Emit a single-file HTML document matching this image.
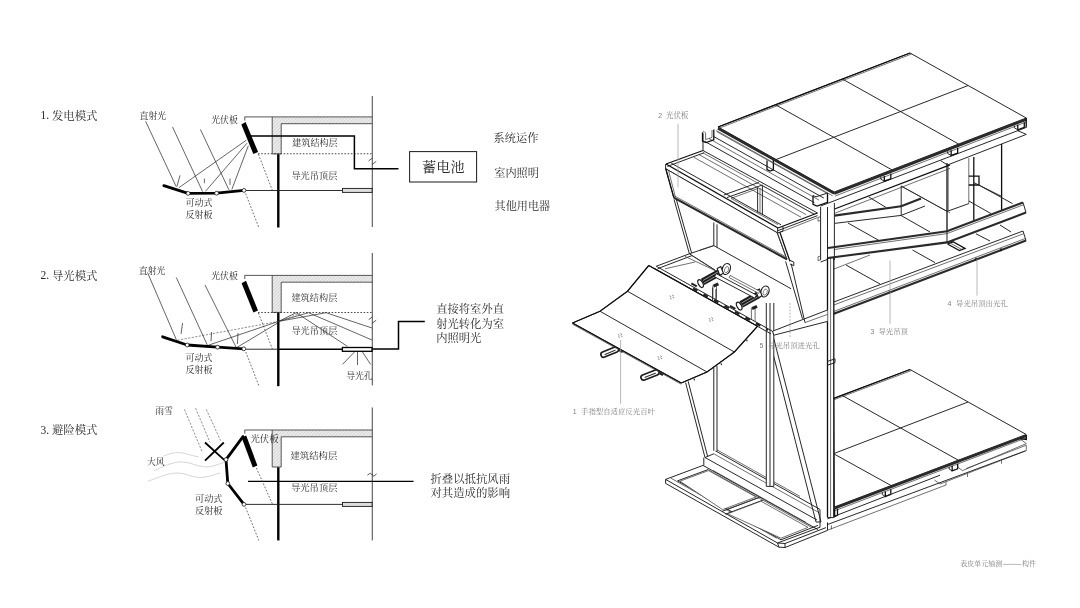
<!DOCTYPE html>
<html lang="zh"><head><meta charset="utf-8"><title>表皮单元 模式示意</title>
<style>
html,body{margin:0;padding:0;background:#fff}
body{width:1080px;height:608px;overflow:hidden;font-family:"Liberation Sans",sans-serif}
svg{display:block}
path,polygon,circle,rect,line{fill:none;stroke:#1a1a1a;stroke-width:1;stroke-linecap:butt;stroke-linejoin:miter}
.gl{fill:inherit;stroke:none}
text{stroke:none}
.k0{stroke:none}
.k1{stroke-width:1}
.k7{stroke-width:.7}
.k8{stroke-width:.8}
.k9{stroke-width:.9}
.g1{stroke:#444;stroke-width:.9}
.t{stroke:#222;stroke-width:.7}
.h13{stroke:#000;stroke-width:1.3}
.h15{stroke:#000;stroke-width:1.5}
.h17{stroke:#000;stroke-width:1.8}
.h25{stroke:#000;stroke-width:2.4}
.h28{stroke:#000;stroke-width:2.8;stroke-linejoin:round;stroke-linecap:round}
.d1{stroke:#222;stroke-width:.8;stroke-dasharray:1.6 1.6}
.d2{stroke:#333;stroke-width:.7;stroke-dasharray:1.8 1.6}
.d3{stroke:#444;stroke-width:.6;stroke-dasharray:2.2 1.4}
.w{stroke:#c4c4c4;stroke-width:.7}

.a{stroke:#1c1c1c;stroke-width:.95}
.a5{stroke:#333;stroke-width:.7}
.ab{stroke:#111;stroke-width:1.3}
.ad{stroke:#2a2a2a;stroke-width:2.1}
.ad26{stroke:#2a2a2a;stroke-width:2.7}
.ad3{stroke:#222;stroke-width:2.8}
.lg{stroke:#a0a0a0;stroke-width:.75}
.lgd{stroke:#a0a0a0;stroke-width:.75;stroke-dasharray:2 1.2}
.cs{font-family:"Liberation Serif","Noto Serif CJK SC",serif}
.cn{font-family:"Liberation Sans","Noto Serif CJK SC",serif}
</style></head>
<body>
<svg width="1080" height="608" viewBox="0 0 1080 608">
<defs><filter id="soft" x="0" y="0" width="100%" height="100%" filterUnits="userSpaceOnUse"><feGaussianBlur stdDeviation="0.38"/></filter><pattern id="hat" width="2.4" height="2.4" patternUnits="userSpaceOnUse" patternTransform="rotate(-45)"><rect width="2.4" height="2.4" style="fill:#ececec;stroke:none"/><line x1="0" y1="0" x2="2.4" y2="0" style="stroke:#a8a8a8;stroke-width:.6"/></pattern></defs>
<rect x="0" y="0" width="1080" height="608" style="fill:#fff;stroke:none"/>
<g filter="url(#soft)">
<path style="fill:url(#hat);stroke:none" d="M272.2 116.9H372.2V123.5H281.2V153.9H272.2Z"/>
<path class="g1" d="M244.6 116.9L372.2 116.9"/>
<path class="g1" d="M244.8 116.9L244.8 120.5"/>
<path class="g1" d="M272.2 116.9L272.2 153.9L281.2 153.9L281.2 123.7L372.2 123.7"/>
<path class="k8" d="M372.3 96L372.3 227"/>
<path class="h25" d="M278.3 154.2L278.3 227.5"/>
<polygon class="k0" style="fill:#000" points="241.3,124.4 245.6,121.9 258.1,151.9 253.3,153.9"/>
<path class="d1" d="M258 153.75L372 153.75"/>
<path class="h15" d="M250.6 136L354.4 136L354.4 168.7L398.5 168.7"/>
<path class="k9" d="M246 190.5L342.5 190.5"/>
<rect class="k9" style="fill:#ddd" x="342.5" y="188.4" width="29.6" height="4"/>
<path class="k7" d="M368.6 160.8L372.6 158"/>
<path class="k7" d="M372.2 164.4L376.2 161.4"/>
<path class="d2" d="M258.4 154.2L272.2 190"/>
<path class="d2" d="M245.6 193.5L258.8 227.5"/>
<path class="t" d="M145.6 121.3L176.2 186.6"/>
<path class="t" d="M172.5 126.9L202.6 191.6"/>
<path class="t" d="M200.4 129.4L228.9 189.8"/>
<path class="t" d="M179 187.6L246.3 140.2"/>
<path class="t" d="M205.4 191.4L247 143.2"/>
<path class="t" d="M231.8 189.5L248.3 145.8"/>
<path class="t" d="M176.9 186.6L180 175.4"/>
<path class="t" d="M204.4 183.2L204.4 178.6"/>
<path class="t" d="M230 185L230 178.6"/>
<path class="h28" d="M163.8 185.6L188.1 193.4L216.6 193.2L244 190.4"/>
<circle class="k8" style="fill:#fff" cx="188.1" cy="193.4" r="1.9"/>
<circle class="k8" style="fill:#fff" cx="216.6" cy="193.2" r="1.9"/>
<circle class="k8" style="fill:#fff" cx="244" cy="190.4" r="1.9"/>
<rect class="k1" style="fill:#fff" x="409.6" y="151.6" width="67" height="30.4"/>
<path style="fill:url(#hat);stroke:none" d="M272.2 275.4H372.2V282H281.2V312.4H272.2Z"/>
<path class="g1" d="M244.6 275.4L372.2 275.4"/>
<path class="g1" d="M244.8 275.4L244.8 279"/>
<path class="g1" d="M272.2 275.4L272.2 312.4L281.2 312.4L281.2 282.2L372.2 282.2"/>
<path class="k8" d="M372.3 253L372.3 385.4"/>
<path class="h25" d="M278.3 312.7L278.3 386.2"/>
<polygon class="k0" style="fill:#000" points="241.6,283.2 246,280.8 258,310.4 253.4,312.4"/>
<path class="d1" d="M258 312.5L372 312.5"/>
<path class="k9" d="M246 349.2L278 349.2"/>
<path class="h15" d="M278 349.3L342.5 349.3"/>
<rect class="h13" style="fill:#fff" x="342.4" y="347.5" width="29.6" height="3.8"/>
<path class="h15" d="M372.3 349L398.5 349L398.5 321.6L424.8 321.6"/>
<path class="k7" d="M368.6 319.6L372.6 316.8"/>
<path class="k7" d="M372.2 323.2L376.2 320.2"/>
<path class="d2" d="M258.4 313L272.4 349"/>
<path class="d2" d="M245.8 352L258.8 385.5"/>
<path class="t" d="M147.5 272.5L176.4 339.8"/>
<path class="t" d="M176.3 277.5L207.4 345.2"/>
<path class="t" d="M205 285L236.2 347.4"/>
<path class="t" d="M181 334L182.6 323"/>
<path class="t" d="M211 341.2L211.6 332"/>
<path class="t" d="M237.4 344L238 333"/>
<path class="d3" d="M177.5 340.2L278.5 321.4"/>
<path class="t" d="M208.5 345.2L278.5 321.4"/>
<path class="t" d="M237 347.4L278.5 322.5"/>
<path class="t" d="M278.5 321.4L296.2 312.7"/>
<path class="t" d="M278.5 321.4L308.5 312.7"/>
<path class="t" d="M278.5 321.4L326 312.7"/>
<path class="d3" d="M278.5 321.4L300 313.4"/>
<path class="t" d="M296.2 312.7L347.5 346.4"/>
<path class="t" d="M308.5 312.7L372 340"/>
<path class="t" d="M326 312.7L372 328"/>
<path class="t" d="M354.4 352L342.5 364.4"/>
<path class="t" d="M357.5 352L357.5 365"/>
<path class="t" d="M362.5 352L370.6 364.4"/>
<path class="h28" d="M162.6 336.8L187.2 345L217.6 347.2L243.8 348.8"/>
<circle class="k8" style="fill:#fff" cx="187.2" cy="345" r="1.9"/>
<circle class="k8" style="fill:#fff" cx="217.6" cy="347.2" r="1.9"/>
<circle class="k8" style="fill:#fff" cx="243.8" cy="348.8" r="1.9"/>
<path style="fill:url(#hat);stroke:none" d="M272.2 430H372.2V436.6H281.2V467H272.2Z"/>
<path class="g1" d="M244.6 430L372.2 430"/>
<path class="g1" d="M244.8 430L244.8 433.6"/>
<path class="g1" d="M272.2 430L272.2 467L281.2 467L281.2 436.8L372.2 436.8"/>
<path class="k8" d="M372.3 407.5L372.3 540.4"/>
<path class="h25" d="M278.3 467.3L278.3 540.4"/>
<polygon class="k0" style="fill:#000" points="241.6,437.4 246.2,435.6 257.4,465.6 252.8,467.4"/>
<path class="h13" d="M248 481.4L413.6 481.4"/>
<path class="k9" d="M246 504.4L342.5 504.4"/>
<rect class="k9" style="fill:#ddd" x="342.5" y="502.4" width="29.6" height="4"/>
<path class="k7" d="M367.4 475.2L370.2 473.2L373.8 476.2L376.6 474"/>
<path class="d2" d="M256.4 468L272.4 504"/>
<path class="d2" d="M245.6 507.5L258.8 540.4"/>
<path class="d3" d="M184.4 409.4L201.9 451.2"/>
<path class="d3" d="M195.6 408.2L210 442.4"/>
<path class="d3" d="M206.3 409.4L220.6 440.6"/>
<path class="w" d="M163.5 456.2C169 453.6 174 452.4 179 452.6C186 452.9 192 456 198.8 456.9"/>
<path class="w" d="M154.4 470.6C163 466.5 172 462 181.3 461.9C190 461.8 197 466.6 205 466.9C212 467.2 218 464.4 224.5 462.2"/>
<path class="w" d="M148 481.3C157 478 167 473.2 177.5 473C186 472.9 191.5 477.2 198.8 477.5C206.5 477.8 213 475 220 473"/>
<path class="h17" d="M205 442.5L225 460.6"/>
<path class="h17" d="M205 460.6L223.8 442.5"/>
<path class="h28" d="M243 436.6L226 459.6L227.8 483.5L244 504.4"/>
<circle class="k8" style="fill:#fff" cx="226" cy="459.6" r="1.9"/>
<circle class="k8" style="fill:#fff" cx="227.8" cy="483.5" r="1.9"/>
<circle class="k8" style="fill:#fff" cx="244" cy="504.4" r="1.9"/>
<g fill="#2a2a2a"><text x="40.4" y="119.46" font-family="Liberation Serif" font-size="11.5">1.</text><text class="cs" x="51.9" y="119.8" font-size="11.4">发电模式</text></g>
<g fill="#2a2a2a"><text x="40.4" y="279.46" font-family="Liberation Serif" font-size="11.5">2.</text><text class="cs" x="51.9" y="279.8" font-size="11.4">导光模式</text></g>
<g fill="#2a2a2a"><text x="40.4" y="433.86" font-family="Liberation Serif" font-size="11.5">3.</text><text class="cs" x="51.9" y="434.2" font-size="11.4">避险模式</text></g>
<g fill="#2a2a2a"><text class="cs" x="139.6" y="119.25" font-size="8.9">直射光</text></g>
<g fill="#2a2a2a"><text class="cs" x="211.2" y="123.25" font-size="8.9">光伏板</text></g>
<g fill="#2a2a2a"><text class="cs" x="292.2" y="146.23" font-size="9.1">建筑结构层</text></g>
<g fill="#2a2a2a"><text class="cs" x="291.4" y="178.51" font-size="9.2">导光吊顶层</text></g>
<g fill="#2a2a2a"><text class="cs" x="185.4" y="206.14" font-size="9">可动式</text></g>
<g fill="#2a2a2a"><text class="cs" x="185.4" y="217.94" font-size="9">反射板</text></g>
<g fill="#2a2a2a"><text class="cs" x="422" y="171.61" font-size="14.2">蓄电池</text></g>
<g fill="#2a2a2a"><text class="cs" x="493.6" y="142.23" font-size="11.2">系统运作</text></g>
<g fill="#2a2a2a"><text class="cs" x="494.2" y="176.83" font-size="11.2">室内照明</text></g>
<g fill="#2a2a2a"><text class="cs" x="494.6" y="210.15" font-size="11.1">其他用电器</text></g>
<g fill="#2a2a2a"><text class="cs" x="138.8" y="274.05" font-size="8.9">直射光</text></g>
<g fill="#2a2a2a"><text class="cs" x="211.2" y="278.85" font-size="8.9">光伏板</text></g>
<g fill="#2a2a2a"><text class="cs" x="291.4" y="301.31" font-size="9.2">建筑结构层</text></g>
<g fill="#2a2a2a"><text class="cs" x="291.4" y="333.91" font-size="9.2">导光吊顶层</text></g>
<g fill="#2a2a2a"><text class="cs" x="185.6" y="361.14" font-size="9">可动式</text></g>
<g fill="#2a2a2a"><text class="cs" x="185.6" y="372.54" font-size="9">反射板</text></g>
<g fill="#2a2a2a"><text class="cs" x="346.2" y="378.57" font-size="8.8">导光孔</text></g>
<g fill="#2a2a2a"><text class="cs" x="436.2" y="312.92" font-size="11.3">直接将室外直</text></g>
<g fill="#2a2a2a"><text class="cs" x="436.2" y="327.52" font-size="11.3">射光转化为室</text></g>
<g fill="#2a2a2a"><text class="cs" x="436.2" y="341.92" font-size="11.3">内照明光</text></g>
<g fill="#2a2a2a"><text class="cs" x="155.6" y="414" font-size="8.6">雨雪</text></g>
<g fill="#2a2a2a"><text class="cs" x="147" y="464.77" font-size="8.8">大风</text></g>
<g fill="#2a2a2a"><text class="cs" x="250.4" y="441.88" font-size="9.4">光伏板</text></g>
<g fill="#2a2a2a"><text class="cs" x="290.4" y="458.88" font-size="9.4">建筑结构层</text></g>
<g fill="#2a2a2a"><text class="cs" x="291" y="491.4" font-size="9.3">导光吊顶层</text></g>
<g fill="#2a2a2a"><text class="cs" x="195" y="502.31" font-size="9.2">可动式</text></g>
<g fill="#2a2a2a"><text class="cs" x="195" y="514.31" font-size="9.2">反射板</text></g>
<g fill="#2a2a2a"><text class="cs" x="430.4" y="483" font-size="11.4">折叠以抵抗风雨</text></g>
<g fill="#2a2a2a"><text class="cs" x="430.4" y="497" font-size="11.4">对其造成的影响</text></g>
<polygon class="a" style="fill:#fff" points="833.75,398.4 910,369.5 1026.25,434.5 834.4,507"/>
<path class="ab" d="M833.75 398.4L910 369.5"/>
<path class="a5" d="M833.75 399.8L911.5 370.5"/>
<path class="ad26" d="M1026.25 435.8L834.4 508.2"/>
<path class="a5" d="M1026.25 437.9L835 510.6"/>
<path class="a" d="M842.42 395.55L958.65 460.37"/>
<path class="a" d="M834.4 454.17L891.82 485.95"/>
<path class="a" d="M833.75 453.6L968.12 402"/>
<path class="ab" d="M885.32 491.45L885.32 496.45L890.82 494.35L890.82 489.35"/>
<path class="a" d="M885.32 496.45L882.32 494.55L882.32 492.55"/>
<path class="ab" d="M952.15 465.87L952.15 470.87L957.65 468.77L957.65 463.77"/>
<path class="a" d="M952.15 470.87L949.15 468.97L949.15 466.97"/>
<path class="ab" d="M834.6 508.5L834.6 516.5L837.5 515.4L837.5 508.4"/>
<path class="a" d="M821 521.4L940 475.2"/>
<path class="a" d="M822.5 526.4L1025.6 450.8"/>
<path class="a5" d="M827.5 530.2L946 485"/>
<path class="ab" d="M1026.3 435L1026.3 439.5L1020 438.6"/>
<path class="a5" d="M1020 438.8L1026.3 443.6L962.5 470.6L957 466.6"/>
<path class="a5" d="M1026.3 445.2L1026.3 450.6L940 484L934.5 480"/>
<path class="a5" d="M1026.3 445.2L966 468.6"/>
<path class="a5" d="M946 481.8L946 485.2"/>
<path class="a5" d="M967.5 473.6L967.5 477"/>
<path class="a5" d="M1001.5 460.4L1001.5 463.8"/>
<polygon class="k0" style="fill:#fff" points="665.6,479.4 703,465.4 703.8,457.6 713.8,453.6 715,450.6 820,509.4 827.5,517.5 827.5,530.4 785,547.5 779,547 665.6,483.4"/>
<path class="a" d="M665.6 479.4L703 465.4"/>
<path class="a" d="M665.6 479.4L777.5 543"/>
<path class="a" d="M665.6 479.4L665.6 483.4"/>
<path class="a" d="M665.6 483.4L779 547.2"/>
<path class="a" d="M779 547.2L785 547.5"/>
<path class="a" d="M777.5 543L779 547.2"/>
<path class="a" d="M777.5 543L785 543.5"/>
<path class="a" d="M785 543.5L785 547.5"/>
<path class="a" d="M785 547.5L827.5 530.4"/>
<path class="a" d="M785 543.5L826 527.6"/>
<path class="a" d="M777.5 543L820 527.2"/>
<path class="a" d="M677.6 480.8L708 469.6"/>
<path class="a" d="M677.6 480.8L781 539.8"/>
<path class="a" d="M781 539.8L818 525.4"/>
<path class="a5" d="M671 478.2L776.6 538.2"/>
<path class="a" d="M703 465.4L818 529.6"/>
<path class="a5" d="M708 469.6L812 527.6"/>
<path class="a5" d="M713 470.4L806 522.4"/>
<path class="a" d="M722 511.4L758.8 497.6"/>
<path class="a" d="M725.4 514.2L762.8 500.2"/>
<path class="a5" d="M727 509.4L760 497"/>
<polygon class="a5" style="fill:#fff" points="727.5,513.8 761,501.2 808,527.4 781,538.2"/>
<polygon class="a5" style="fill:#fff" points="680,481.2 708.5,470.6 756,497 722.6,509.6"/>
<path class="a" d="M703.8 457.6L703.8 465.4"/>
<path class="a" d="M705 457.5L713.8 453.8"/>
<path class="a" d="M715 450.6L820 509.4"/>
<path class="a5" d="M713.8 453.8L819 512.6"/>
<path class="a" d="M705 457.5L817 520"/>
<path class="a5" d="M716.5 449.6L800 496.4"/>
<path class="a" d="M685.6 382.6L705 457.6"/>
<path class="a" d="M688.2 381.4L707.6 456.4"/>
<polygon class="k0" style="fill:#fff" points="713.8,367 717,367 717,450.8 713.8,450.8"/>
<path class="a" d="M713.8 367.5L713.8 450.8"/>
<path class="a" d="M717 366L717 451.4"/>
<path class="a" d="M768 334L816 522"/>
<path class="a" d="M772.6 334L821 522"/>
<path class="a" d="M816 522L821 522"/>
<polygon class="k0" style="fill:#fff" points="766.3,303 773.8,303 773.8,486 766.3,486"/>
<path class="a" d="M766.3 303L766.3 486.4"/>
<path class="a" d="M770 303L770 486.4"/>
<path class="a" d="M773.8 303L773.8 486.4"/>
<path class="a" d="M766.3 486.4L773.8 486.4"/>
<path class="ad" d="M834.4 215.6L901.2 206.2"/>
<path class="ad" d="M901.2 206.2L921 198.4"/>
<path class="a" d="M834.4 223.4L901.2 215.4"/>
<path class="a" d="M901.2 215.4L925 206"/>
<path class="a" d="M848 223L878.8 240.4"/>
<path class="a" d="M901.2 215.6L930 232"/>
<path class="a" d="M868.8 197L886 207.4"/>
<path class="a" d="M901.2 186L901.2 215"/>
<path class="a" d="M901.2 186L947 211.4"/>
<path class="a" d="M947 211.4L968.8 203.6"/>
<path class="ab" d="M947 163L947 242.5"/>
<path class="a5" d="M968.8 158L968.8 203.6"/>
<path class="ab" d="M973.8 157L973.8 221"/>
<path class="ab" d="M1001.6 144L1001.6 210"/>
<path class="a5" d="M948.2 165L948.2 211"/>
<path class="ab" d="M968.8 176.2L979 176.2L979 185L968.8 185"/>
<path class="a" d="M973.8 182.6L1001.6 196.4"/>
<path class="a" d="M978.8 185L1012.5 203.6"/>
<path class="a" d="M968.8 201L991 213.6"/>
<path class="a5" d="M901.2 186.2L950 212.8"/>
<polygon class="k0" style="fill:#fff" points="828,248 947,231.2 1023,202.4 1026,212.6 947,242.4 828,258"/>
<path class="ad" d="M828 248L947 231.2L1023 202.4"/>
<path class="ad" d="M828 258L947 242.4L1026 212.6"/>
<path class="a" d="M1023 202.4L1026 212.6"/>
<path class="a" d="M947 231.2L947 242.4"/>
<path class="a5" d="M828 250.4L947 233.6L1024 204.6"/>
<path class="a" d="M846 265L880 284"/>
<path class="a" d="M912.5 250L935 262.6"/>
<path class="a" d="M976 233.8L990 241"/>
<path class="a" d="M1000 225L1011 232"/>
<path class="a5" d="M834 269L870 255"/>
<path class="ab" d="M947.5 244L953 241.8L965 248.4L959.4 250.6L947.5 244"/>
<path class="a5" d="M950.4 243.2L962 249.6"/>
<polygon class="k0" style="fill:#fff" points="833.8,302 1023,231 1026,240.6 833.8,313.8"/>
<path class="a" d="M833.8 302L1023 231"/>
<path class="a5" d="M833.8 305L1023.4 233.8"/>
<path class="ad" d="M833.8 313.8L1026 240.6"/>
<path class="a" d="M1023 231L1026 240.6"/>
<path class="a5" d="M833.8 311.4L1025 238.6"/>
<path class="ab" d="M889.5 290.61L889.5 293.61"/>
<path class="ab" d="M976 257.68L976 260.68"/>
<path class="ab" d="M1001 248.17L1001 251.17"/>
<path class="a" d="M820.6 206L1026.3 127.4"/>
<path class="ab" d="M828 211.5L950 164.8"/>
<path class="a5" d="M834.4 213.4L950 168.4"/>
<path class="a" d="M1017.5 130.6L1026.3 134.4L947.5 165L940.6 160.6"/>
<polygon class="k0" style="fill:#fff" points="820.6,209 834.4,205 834.4,260 820.6,262"/>
<path class="a" d="M820.6 207L820.6 260"/>
<path class="a" d="M827.5 207L827.5 260"/>
<path class="a" d="M834.4 203L834.4 260"/>
<path class="a" d="M820.6 262L827.5 259.4"/>
<path class="a5" d="M820.6 216.6L818 217.4L818 221.2L820.6 220.4"/>
<path class="a5" d="M820.6 256L818 256.8L818 260.6L820.6 259.8"/>
<polygon class="k0" style="fill:#fff" points="827.5,258 833.8,258 833.8,517.6 827.5,517.6"/>
<path class="ab" d="M827.5 258L827.5 517.6"/>
<path class="a5" d="M830.6 258L830.6 517.6"/>
<path class="ab" d="M833.8 258L833.8 517.6"/>
<path class="a" d="M827.5 361.4L835 358.8L835 362.6L827.5 365.2"/>
<path class="a" d="M827.5 517.6L833.8 517.6"/>
<path class="ad" d="M828 248L835 247"/>
<path class="ad" d="M828 258L835 257.1"/>
<polygon class="k0" style="fill:#fff" points="773,331 827.5,310 827.5,321.4 773.8,335.2"/>
<path class="a" d="M773 331L827.5 310"/>
<path class="a" d="M773.8 335.2L827.5 321.4"/>
<path class="a" d="M772.4 331L773.8 335.2"/>
<path class="a5" d="M805 322.6L827.5 314.4"/>
<path class="a" d="M820 509.6L820 527.4"/>
<path class="a" d="M827.5 522.4L827.5 530.4"/>
<path class="a5" d="M831.4 525.4L831.4 529.4"/>
<path class="a" d="M703 150.5L817.5 213"/>
<path class="a5" d="M703 152.9L814.5 214.4"/>
<path class="a5" d="M699 154.6L806 214.6"/>
<path class="a5" d="M694 157.4L801 217.2"/>
<path class="a" d="M723.8 195L758.8 182.4"/>
<path class="a" d="M727 197.6L762.4 185"/>
<path class="a5" d="M731 198.4L757.6 188.6"/>
<path class="a" d="M757.6 187.6L757.6 212.6"/>
<path class="a" d="M762.4 185.6L762.4 215"/>
<path class="a5" d="M760 213.8L760 188"/>
<path class="a5" d="M731 198.4L778 224.6"/>
<path class="a5" d="M762.4 185.6L815 214.6"/>
<polygon class="k0" style="fill:#fff" points="674,198 787,259.6 802.5,318.8 689.4,253.8"/>
<path class="a" d="M713.8 222.5L713.8 245.6"/>
<path class="a" d="M717 224.4L717 247.4"/>
<path class="a" d="M689.4 253.8L713.8 245.6"/>
<path class="a" d="M713.8 245.6L791.2 288.8"/>
<path class="a5" d="M700 250.2L713.8 245.6"/>
<path class="ab" d="M666 164L703 150.5"/>
<path class="a" d="M667.4 166.4L704.2 152.7"/>
<path class="a" d="M703 150.5L703 133.4"/>
<path class="ab" d="M666 164L778 228"/>
<path class="a" d="M671.2 163.1L781 224.8"/>
<path class="a" d="M665.8 168.8L777 232.6"/>
<path class="ab" d="M778 228L817.5 213"/>
<path class="a" d="M778 230.6L817.5 215.6"/>
<path class="a5" d="M779 232.8L817.5 217.6"/>
<path class="a" d="M777.6 228L777.6 233L783 231L783 226.4"/>
<polygon class="a" style="fill:#fff" points="665.8,168.8 777,232.6 787,259.4 673.8,197.6"/>
<path class="a" d="M665.6 164L665.6 169"/>
<path class="ab" d="M665.8 168.8L673.8 197.6"/>
<path class="a5" d="M668.4 170L675.4 197"/>
<path class="ad" d="M673.8 197.6L787 259.4"/>
<path class="a5" d="M672 194.6L785 256.4"/>
<path class="ab" d="M780 232.6L790 261.4"/>
<path class="a5" d="M777.6 233L786.6 259"/>
<path class="a" d="M790 260.4L793.8 262L793.8 265.6L790 264"/>
<path class="a" d="M674 199.4L689.4 253.8"/>
<path class="a" d="M676.4 199.8L691.6 253"/>
<path class="a" d="M785.6 261.4L802.5 318.8"/>
<path class="a" d="M791.2 263.8L805 322.6"/>
<path class="a" d="M704.4 141.2L814.4 202.69"/>
<path class="a5" d="M709 138.6L819 200.09"/>
<path class="a" d="M713.8 136.6L823.8 198.09"/>
<path class="a5" d="M716.6 131.6L826.6 193.09"/>
<path class="ab" d="M702.5 132.6L702.5 141L706 142.6L713.8 139.8L713.8 129.6"/>
<path class="a5" d="M702.5 132.6L704 131.4L705.6 133L705.6 139.6L712 137.4L712 130"/>
<path class="ab" d="M813 195.6L813 204.4L817 206L827.5 202.4L827.5 193"/>
<path class="a" d="M813 195.6L816 196.8L827.5 193"/>
<path class="ab" d="M767 160.6L767 169.6L770 171L773.4 169.8L773.4 160"/>
<polygon class="a" style="fill:#fff" points="718,127 910,53 1026.25,118 834.2,192"/>
<path class="ab" d="M718 127L910 53"/>
<path class="a5" d="M720 127.8L911.6 54"/>
<path class="ad26" d="M718 128.3L834.2 193.3"/>
<path class="ad26" d="M834.2 193.4L1026.25 119.4"/>
<path class="a5" d="M716.4 130.6L832.6 195.8"/>
<path class="a5" d="M835.2 196L1026.25 122"/>
<path class="ab" d="M1026.25 118L1026.25 127.4"/>
<path class="a" d="M775.6 104.8L891.82 169.8"/>
<path class="a" d="M842.42 79.05L958.65 144.05"/>
<path class="a" d="M776.1 159.5L968.12 85.5"/>
<path class="ab" d="M884.32 176L884.32 181.2L890.82 178.8L890.82 173.6"/>
<path class="a" d="M884.32 181.2L880.82 179.2L880.82 177"/>
<path class="ab" d="M951.15 150.25L951.15 155.45L957.65 153.05L957.65 147.85"/>
<path class="a" d="M951.15 155.45L947.65 153.45L947.65 151.25"/>
<path class="ab" d="M1017.79 124.57L1017.79 129.77L1024.29 127.37L1024.29 122.17"/>
<path class="a" d="M1017.79 129.77L1014.29 127.77L1014.29 125.57"/>
<path class="a" d="M656.25 266.25L689.4 253.8"/>
<path class="a" d="M657.65 268.65L692 255.6"/>
<path class="a5" d="M665 268.8L695 262"/>
<path class="a" d="M656.25 266.25L772.5 331.25"/>
<path class="a" d="M654.65 268.45L770.9 333.85"/>
<path class="a" d="M689.4 253.8L715 270"/>
<path class="a5" d="M692 255.6L716 271"/>
<path class="a" d="M712.6 287.5L712.6 300"/>
<path class="a" d="M716 289L716 302"/>
<path class="a5" d="M712.8 285.5L712.8 297"/>
<path class="a5" d="M716.5 284L716.5 298.6"/>
<ellipse transform="rotate(22 726.3 269)" cx="726.3" cy="269" rx="3.9" ry="5.6" style="fill:#fff;stroke:#1c1c1c;stroke-width:1.2"/>
<ellipse transform="rotate(22 726.6 269.6)" cx="726.6" cy="269.6" rx="1.9" ry="3.2" style="fill:#fff;stroke:#444;stroke-width:.6"/>
<path style="stroke:#1c1c1c;stroke-width:7" d="M702.6 281.9L720.2 272.1"/>
<path style="stroke:#c8c8c8;stroke-width:.7" d="M703 280.5L719.8 270.9M703.8 283.1L720.6 273.5"/>
<path style="stroke:#1c1c1c;stroke-width:1.1;fill:#fff" d="M717.2 268.6l3.6 -2l2.6 6.6l-3.6 2z"/>
<ellipse transform="rotate(-28 700.6 283.6)" cx="700.6" cy="283.6" rx="2.2" ry="4.2" style="fill:#fff;stroke:#1c1c1c;stroke-width:1.2"/>
<path style="stroke:#222;stroke-width:3" d="M713.4 286.2l5 -2.4"/>
<path style="stroke:#222;stroke-width:2" d="M691.4 283.4l5.4 3"/>
<path class="a5" d="M751.4 308L751.4 319.5"/>
<path class="a5" d="M755.1 306.5L755.1 321.1"/>
<ellipse transform="rotate(22 764.9 291.5)" cx="764.9" cy="291.5" rx="3.9" ry="5.6" style="fill:#fff;stroke:#1c1c1c;stroke-width:1.2"/>
<ellipse transform="rotate(22 765.2 292.1)" cx="765.2" cy="292.1" rx="1.9" ry="3.2" style="fill:#fff;stroke:#444;stroke-width:.6"/>
<path style="stroke:#1c1c1c;stroke-width:7" d="M741.2 304.4L758.8 294.6"/>
<path style="stroke:#c8c8c8;stroke-width:.7" d="M741.6 303L758.4 293.4M742.4 305.6L759.2 296"/>
<path style="stroke:#1c1c1c;stroke-width:1.1;fill:#fff" d="M755.8 291.1l3.6 -2l2.6 6.6l-3.6 2z"/>
<ellipse transform="rotate(-28 739.2 306.1)" cx="739.2" cy="306.1" rx="2.2" ry="4.2" style="fill:#fff;stroke:#1c1c1c;stroke-width:1.2"/>
<path style="stroke:#222;stroke-width:3" d="M752 308.7l5 -2.4"/>
<path style="stroke:#222;stroke-width:2" d="M730 305.9l5.4 3"/>
<polygon class="a" style="fill:#fff" points="716,273.6 756.4,295 755,298.2 714.6,276.8"/>
<polygon class="a5" style="fill:#fff" points="730,275.4 759.6,291.2 758.8,293.4 729.2,277.6"/>
<path class="a5" d="M685 256.4L715.6 270.8"/>
<path style="stroke:#222;stroke-width:2.2;stroke-dasharray:5 7" d="M693 288.4L768 330"/>
<path style="stroke:#1c1c1c;stroke-width:7;stroke-linecap:round" d="M616 349.4L603.6 354.6"/>
<path style="stroke:#fff;stroke-width:3.8;stroke-linecap:round" d="M616 349.4L603.6 354.6"/>
<path style="stroke:#333;stroke-width:1.2;stroke-linecap:round" d="M615 350.3L605.1 354.5"/>
<path style="stroke:#222;stroke-width:2.4" d="M619.2 350l3.4 2"/>
<path style="stroke:#1c1c1c;stroke-width:7;stroke-linecap:round" d="M656.4 372.4L643.6 377.4"/>
<path style="stroke:#fff;stroke-width:3.8;stroke-linecap:round" d="M656.4 372.4L643.6 377.4"/>
<path style="stroke:#333;stroke-width:1.2;stroke-linecap:round" d="M655.4 373.3L645.1 377.3"/>
<path style="stroke:#222;stroke-width:2.4" d="M659.6 373l3.4 2"/>
<polygon class="a" style="fill:#fff" points="648.75,265.5 627.5,291.25 600,311.25 572.5,323 681.25,383 707,372 734.4,352 757.5,326.25"/>
<path class="ab" d="M648.75 265.5L627.5 291.25L600 311.25L572.5 323"/>
<path class="ab" d="M757.5 326.25L734.4 352L707 372L681.25 383"/>
<path class="ab" d="M648.75 265.5L757.5 326.25"/>
<path class="a" d="M627.5 291.25L734.4 352"/>
<path class="a" d="M600 311.25L707 372"/>
<path class="ab" d="M572.5 323L681.25 383"/>
<path class="a5" d="M572.5 324.2L681.25 384.2"/>
<path style="stroke:#333;stroke-width:.6" d="M669.6 295.8l1.6 .9M672.2 295l1.6 .9M670 298l1.6 .9M672.6 297.2l1.6 .9"/>
<path style="stroke:#333;stroke-width:.6" d="M708.8 318.4l1.6 .9M711.4 317.6l1.6 .9M709.2 320.6l1.6 .9M711.8 319.8l1.6 .9"/>
<path style="stroke:#333;stroke-width:.6" d="M617.8 334.4l1.6 .9M620.4 333.6l1.6 .9M618.2 336.6l1.6 .9M620.8 335.8l1.6 .9"/>
<path style="stroke:#333;stroke-width:.6" d="M657.6 356.6l1.6 .9M660.2 355.8l1.6 .9M658 358.8l1.6 .9M660.6 358l1.6 .9"/>
<path style="stroke:#222;stroke-width:1.2" d="M746.6 339.6l.6 1.6"/>
<path style="stroke:#222;stroke-width:1.2" d="M721 363.4l.6 1.6"/>
<path style="stroke:#222;stroke-width:1.2" d="M694 378.6l.6 1.6"/>
<path class="lg" d="M678 123.8L678 187.5"/>
<g fill="#808080"><text x="658.2" y="118.23" font-family="Liberation Sans" font-size="7">2</text><text class="cn" x="666" y="118.45" font-size="7.5">光伏板</text></g>
<path class="lg" d="M977 259L977 295.6"/>
<g fill="#808080"><text x="947.4" y="305.74" font-family="Liberation Sans" font-size="7">4</text><text class="cn" x="956" y="305.96" font-size="7.4">导光吊顶出光孔</text></g>
<path class="lg" d="M890 260.6L890 323.8"/>
<g fill="#808080"><text x="870.4" y="333.54" font-family="Liberation Sans" font-size="7">3</text><text class="cn" x="878.4" y="333.76" font-size="7.4">导光吊顶</text></g>
<path class="lgd" d="M790 303L790 337"/>
<g fill="#808080"><text x="759.4" y="347.94" font-family="Liberation Sans" font-size="7">5</text><text class="cn" x="768" y="348.16" font-size="7.4">导光吊顶进光孔</text></g>
<path class="lg" d="M620.6 340L620.6 403.8"/>
<g fill="#808080"><text x="572.8" y="413.74" font-family="Liberation Sans" font-size="7">1</text><text class="cn" x="581" y="413.96" font-size="7.4">手指型自适应反光百叶</text></g>
<g fill="#808080"><text class="cn" x="960.2" y="566.42" font-size="7">表皮单元轴测</text></g>
<path class="lg" d="M1003 564.4L1021.4 564.4"/>
<g fill="#808080"><text class="cn" x="1022" y="566.42" font-size="7">构件</text></g>
</g>
</svg>
</body></html>
